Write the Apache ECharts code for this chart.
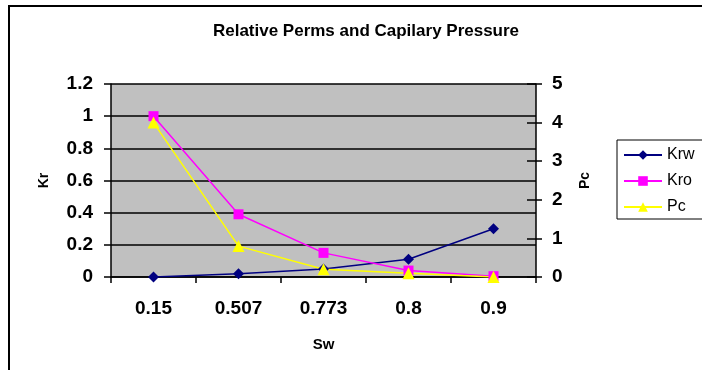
<!DOCTYPE html>
<html>
<head>
<meta charset="utf-8">
<script src="https://cdn.jsdelivr.net/npm/echarts@6/dist/echarts.min.js"></script>
<style>
  html, body { margin: 0; padding: 0; background: #fff; }
  #chart { width: 702px; height: 370px; }
</style>
</head>
<body>
<div id="chart"></div>
<script>
// Water saturation categories
const sw = ['0.15', '0.507', '0.773', '0.8', '0.9'];
// Relative permeabilities (left axis)
const krw = [0, 0.02, 0.05, 0.11, 0.30];
const kro = [1.0, 0.39, 0.15, 0.04, 0.005];
// Capillary pressure (right axis)
const pc = [4.0, 0.8, 0.2, 0.1, 0];

const font = 'Arial, "Liberation Sans", sans-serif';
const chart = echarts.init(document.getElementById('chart'));

const tickStyle = { color: '#000', width: 1.5 };

chart.setOption({
  animation: false,
  backgroundColor: '#ffffff',
  title: {
    text: 'Relative Perms and Capilary Pressure',
    left: 361, top: 18, textAlign: 'center',
    textStyle: { fontFamily: font, fontSize: 17, fontWeight: 'bold', color: '#000' }
  },
  graphic: [{
    type: 'rect', silent: true, z: 100,
    shape: { x: 9, y: 6, width: 720, height: 400 },
    style: { fill: 'none', stroke: '#000', lineWidth: 2 }
  }],
  legend: {
    orient: 'vertical',
    left: 617, top: 140,
    padding: [7, 40, 4, 6],
    itemGap: 10,
    itemWidth: 38, itemHeight: 12,
    borderColor: '#000', borderWidth: 1,
    backgroundColor: '#fff',
    textStyle: { fontFamily: font, fontSize: 16, color: '#000' },
    data: ['Krw', 'Kro', 'Pc']
  },
  grid: { left: 111, right: 166, top: 84, bottom: 93, show: true, backgroundColor: '#c0c0c0', borderWidth: 0 },
  xAxis: {
    type: 'category',
    data: sw,
    boundaryGap: true,
    name: 'Sw', nameLocation: 'middle', nameGap: 60,
    nameTextStyle: { fontFamily: font, fontSize: 15, fontWeight: 'bold', color: '#000' },
    axisLine: { lineStyle: { color: '#000', width: 1.5 } },
    axisTick: { show: true, length: 6, lineStyle: tickStyle },
    axisLabel: { margin: 22, fontFamily: font, fontSize: 19, fontWeight: 'bold', color: '#000' }
  },
  yAxis: [{
    type: 'value', min: 0, max: 1.2, interval: 0.2,
    name: 'Kr', nameLocation: 'middle', nameRotate: 90, nameGap: 60,
    nameTextStyle: { fontFamily: font, fontSize: 14, fontWeight: 'bold', color: '#000' },
    axisLine: { show: true, lineStyle: { color: '#000', width: 1.5 } },
    axisTick: { show: true, length: 7, lineStyle: tickStyle },
    axisLabel: { margin: 18, fontFamily: font, fontSize: 19, fontWeight: 'bold', color: '#000',
                 formatter: v => String(Math.round(v * 10) / 10) },
    splitLine: { show: true, lineStyle: { color: '#000', width: 1.5 } }
  }, {
    type: 'value', min: 0, max: 5, interval: 1, position: 'right',
    name: 'Pc', nameLocation: 'middle', nameRotate: 90, nameGap: 42,
    nameTextStyle: { fontFamily: font, fontSize: 14, fontWeight: 'bold', color: '#000' },
    axisLine: { show: true, lineStyle: { color: '#000', width: 1.5 } },
    axisTick: { show: true, length: 6, lineStyle: tickStyle },
    axisLabel: { margin: 16, fontFamily: font, fontSize: 19, fontWeight: 'bold', color: '#000' },
    splitLine: { show: false }
  }, {
    // inner half of the crossing ticks on the Pc axis
    type: 'value', min: 0, max: 5, interval: 1, position: 'right',
    axisLine: { show: false },
    axisTick: { show: true, inside: true, length: 9, lineStyle: tickStyle },
    axisLabel: { show: false },
    splitLine: { show: false }
  }],
  series: [{
    name: 'Krw', type: 'line', data: krw, yAxisIndex: 0,
    symbol: 'diamond', symbolSize: 11,
    lineStyle: { color: '#000080', width: 1.5 },
    itemStyle: { color: '#000080' }
  }, {
    name: 'Kro', type: 'line', data: kro, yAxisIndex: 0,
    symbol: 'rect', symbolSize: 10,
    lineStyle: { color: '#ff00ff', width: 1.5 },
    itemStyle: { color: '#ff00ff' }
  }, {
    name: 'Pc', type: 'line', data: pc, yAxisIndex: 1,
    symbol: 'triangle', symbolSize: 12,
    lineStyle: { color: '#ffff00', width: 1.5 },
    itemStyle: { color: '#ffff00' }
  }]
});
</script>
</body>
</html>
